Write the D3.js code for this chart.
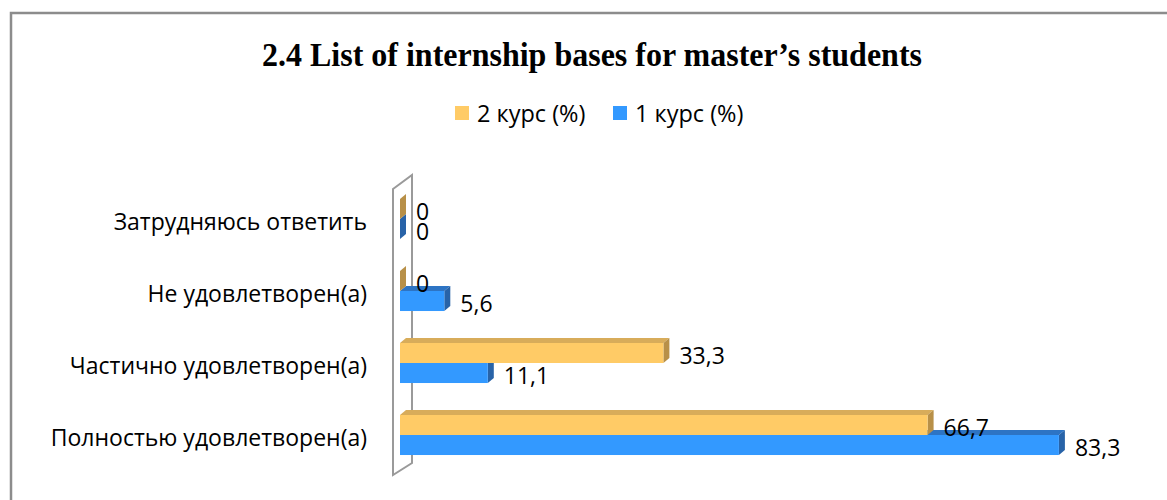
<!DOCTYPE html>
<html>
<head>
<meta charset="utf-8">
<script src="https://cdn.jsdelivr.net/npm/d3@7"></script>
<style>
  body { margin: 0; background: #fff; }
  svg { display: block; }
</style>
</head>
<body>
<div id="chart"></div>
<script>
// categories, bottom to top as in the picture
const categories = [
  "Полностью удовлетворен(а)",
  "Частично удовлетворен(а)",
  "Не удовлетворен(а)",
  "Затрудняюсь ответить"
];
const seriesNames = ["2 курс (%)", "1 курс (%)"];
const course2 = [66.7, 33.3, 0, 0];
const course1 = [83.3, 11.1, 5.6, 0];

const W = 1167, H = 500;
const svg = d3.select("#chart").append("svg")
  .attr("width", W).attr("height", H);

// frame (only left and top edges are inside the picture)
svg.append("rect")
  .attr("x", 11).attr("y", 13)
  .attr("width", W + 20).attr("height", H + 20)
  .attr("fill", "none")
  .attr("stroke", "#8c8c8c")
  .attr("stroke-width", 2.5);

svg.append("text")
  .attr("x", 592).attr("y", 66)
  .attr("text-anchor", "middle")
  .attr("font-family", "'Liberation Serif', 'Times New Roman', serif")
  .attr("font-weight", "bold")
  .attr("font-size", 33)
  .attr("textLength", 660)
  .attr("lengthAdjust", "spacingAndGlyphs")
  .text("2.4 List of internship bases for master\u2019s students");

const colors = {
  "2 курс (%)": { front: "#ffcb66", top: "#d8ac5a", side: "#b89048" },
  "1 курс (%)": { front: "#3399ff", top: "#2d74c4", side: "#2863a8" }
};

// legend
const legendX = [455, 613];
seriesNames.forEach((s, i) => {
  const g = svg.append("g").attr("transform", `translate(${legendX[i]},106)`);
  g.append("rect").attr("width", 14).attr("height", 14).attr("fill", colors[s].front);
  g.append("text")
    .attr("x", 22).attr("y", 7)
    .attr("dominant-baseline", "central")
    .attr("font-family", "'Open Sans', sans-serif")
    .attr("font-size", 23.5)
    .text(s);
});

const x = d3.scaleLinear().domain([0, 90]).range([400, 400 + 90 * 7.91]);
const y = d3.scaleBand()
  .domain(categories.slice().reverse())
  .range([183, 471])
  .paddingInner(0.444)
  .paddingOuter(0.222);
const ySub = d3.scaleBand().domain(seriesNames).range([0, y.bandwidth()]);

const depthX = 6, depthY = 5;

// 3D wall behind the category axis
const wallFront = x(0) - 7, wallBack = x(0) + 12;
svg.append("path")
  .attr("d", `M${wallFront},189 L${wallBack},175 L${wallBack},463 L${wallFront},475 Z`)
  .attr("fill", "none")
  .attr("stroke", "#9a9a9a")
  .attr("stroke-width", 2);

const plot = svg.append("g");

categories.forEach((cat, ci) => {
  const vals = { "2 курс (%)": course2[ci], "1 курс (%)": course1[ci] };
  // lower series first so the upper bar hides its top face
  seriesNames.slice().reverse().forEach(s => {
    const v = vals[s];
    const x0 = x(0), x1 = x(v);
    const y0 = y(cat) + ySub(s), h = ySub.bandwidth();
    const c = colors[s];
    // top face
    plot.append("path")
      .attr("d", `M${x0},${y0} L${x0 + depthX},${y0 - depthY} L${x1 + depthX},${y0 - depthY} L${x1},${y0} Z`)
      .attr("fill", c.top);
    // side face
    plot.append("path")
      .attr("d", `M${x1},${y0} L${x1 + depthX},${y0 - depthY} L${x1 + depthX},${y0 + h - depthY} L${x1},${y0 + h} Z`)
      .attr("fill", c.side);
    // front face
    plot.append("rect")
      .attr("x", x0).attr("y", y0)
      .attr("width", x1 - x0).attr("height", h)
      .attr("fill", c.front);
  });
  seriesNames.forEach(s => {
    const v = vals[s];
    plot.append("text")
      .attr("x", x(v) + 16)
      .attr("y", y(cat) + ySub(s) + ySub.bandwidth() / 2 + 2)
      .attr("dominant-baseline", "central")
      .attr("font-family", "'Open Sans', sans-serif")
      .attr("font-size", 23)
      .text(String(v).replace(".", ","));
  });
});

// category labels
svg.append("g").selectAll("text")
  .data(categories)
  .join("text")
  .attr("x", 367)
  .attr("y", d => y(d) + y.bandwidth() / 2 + 2)
  .attr("text-anchor", "end")
  .attr("dominant-baseline", "central")
  .attr("font-family", "'Open Sans', sans-serif")
  .attr("font-size", 23)
  .text(d => d);
</script>
</body>
</html>
